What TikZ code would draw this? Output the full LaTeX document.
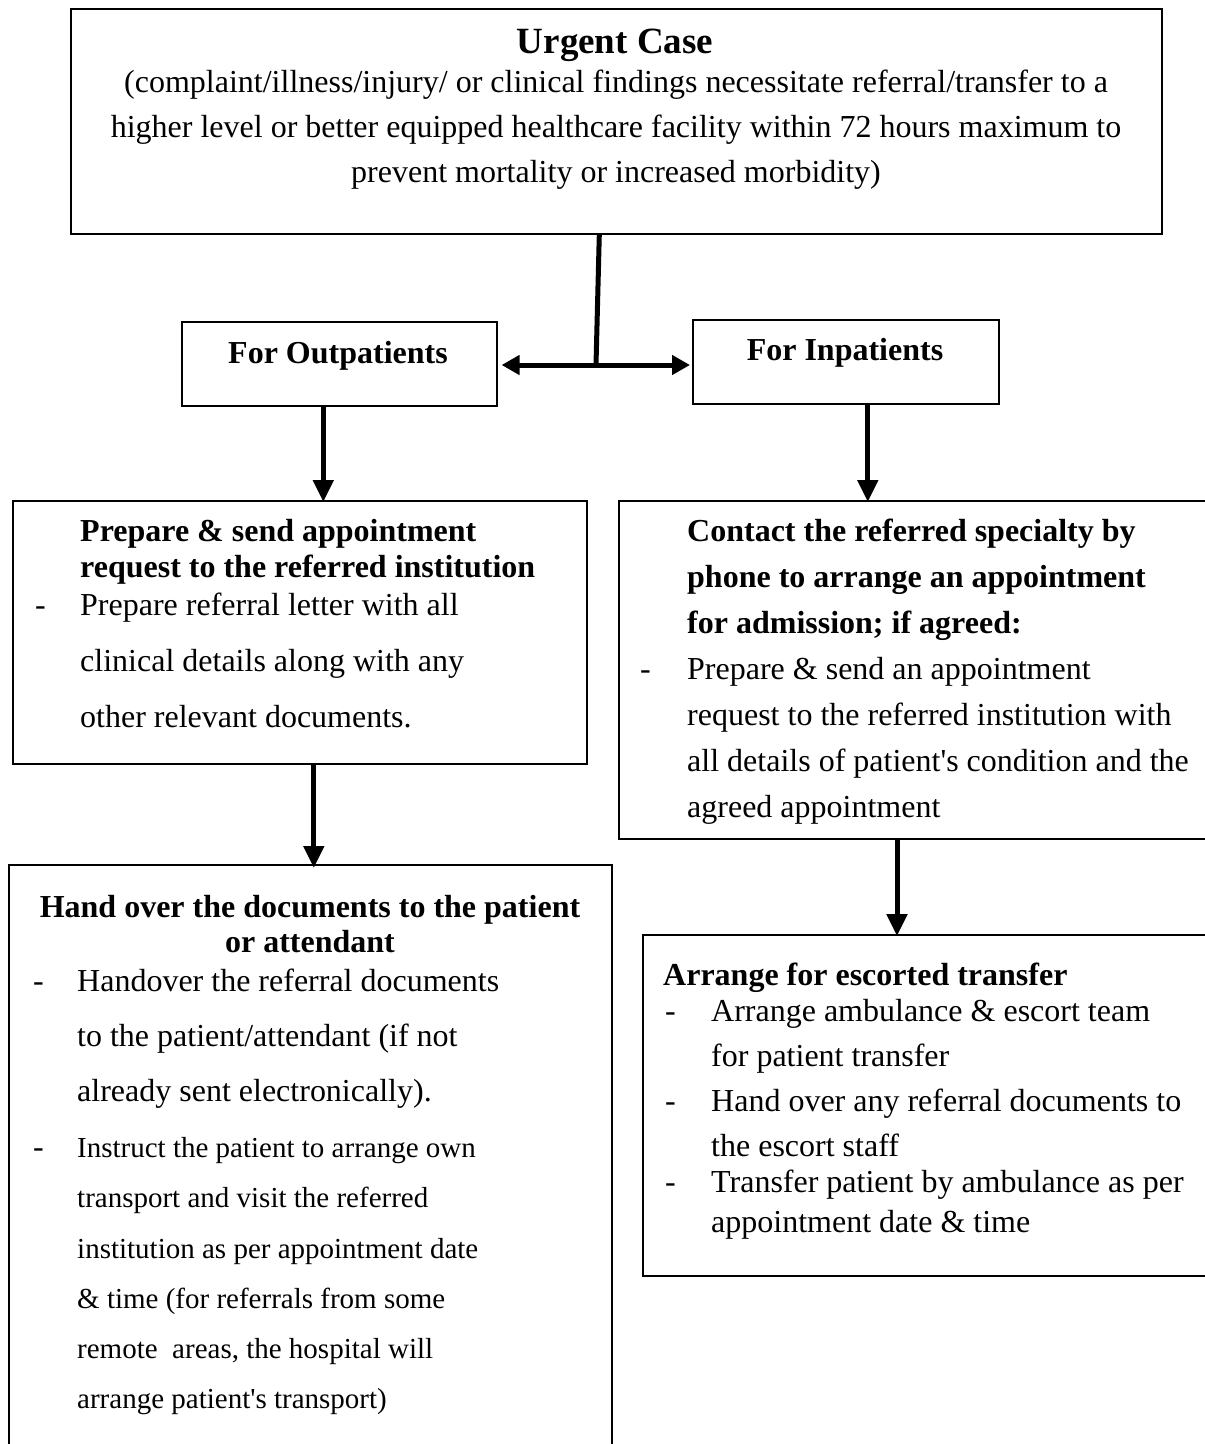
\documentclass[tikz,border=0pt]{standalone}
\usepackage{fontspec}
\setmainfont{Liberation Serif}[Ligatures=TeXOff]
\usetikzlibrary{arrows.meta,calc}

\tikzset{
  box/.style={draw=black, line width=1.6pt, inner sep=0pt, anchor=north west},
  flow/.style={line width=5pt, -{Triangle[length=22pt,width=20pt]}},
  both/.style={line width=5pt, {Triangle[length=18pt,width=19pt]}-{Triangle[length=18pt,width=19pt]}},
  plain/.style={line width=5pt},
  txt/.style={inner sep=0pt, anchor=mid west, font=\fontsize{#1}{#1}\selectfont},
  txt/.default=32,
  btxt/.style={inner sep=0pt, anchor=mid west, font=\fontsize{#1}{#1}\selectfont\bfseries},
  btxt/.default=32,
  ctxt/.style={inner sep=0pt, anchor=mid, font=\fontsize{#1}{#1}\selectfont},
  ctxt/.default=32,
  cbtxt/.style={inner sep=0pt, anchor=mid, font=\fontsize{#1}{#1}\selectfont\bfseries},
  cbtxt/.default=32,
}

\begin{document}
\begin{tikzpicture}[x=1pt, y=-1pt]
\useasboundingbox (0,0) rectangle (1205,1444);
\fill[white] (0,0) rectangle (1205,1444);
\clip (0,0) rectangle (1205,1444);

% frames
\node[box, minimum width=1091pt, minimum height=225pt] (top)  at (70,8) {};
\node[box, minimum width=315pt,  minimum height=84pt]  (out)  at (181,321) {};
\node[box, minimum width=306pt,  minimum height=84pt]  (inp)  at (692,319) {};
\node[box, minimum width=574pt,  minimum height=263pt] (prep) at (12,500) {};
\node[box, minimum width=640pt,  minimum height=338pt] (cont) at (618,500) {};
\node[box, minimum width=603pt,  minimum height=620pt] (hand) at (8,864) {};
\node[box, minimum width=620pt,  minimum height=341pt] (esc)  at (642,934) {};

% top box
\node[cbtxt=37] (t0) at (615,51) {Urgent Case};
\node[ctxt] (t1) at (616,90) {(complaint/illness/injury/ or clinical findings necessitate referral/transfer to a};
\node[ctxt] (t2) at (616,135) {higher level or better equipped healthcare facility within 72 hours maximum to};
\node[ctxt] (t3) at (616,180) {prevent mortality or increased morbidity)};

% branch boxes
\node[cbtxt] (o1) at (338,361) {For Outpatients};
\node[cbtxt] (i1) at (845,358) {For Inpatients};

% outpatient appointment request
\node[btxt] (p1) at (80,539) {Prepare \& send appointment};
\node[btxt] (p2) at (80,575) {request to the referred institution};
\node[txt] (pd) at (35,613) {-};
\node[txt] (p3) at (80,613) {Prepare referral letter with all};
\node[txt] (p4) at (80,669) {clinical details along with any};
\node[txt] (p5) at (80,725) {other relevant documents.};

% inpatient contact
\node[btxt] (c1) at (687,539) {Contact the referred specialty by};
\node[btxt] (c2) at (687,585) {phone to arrange an appointment};
\node[btxt] (c3) at (687,631) {for admission; if agreed:};
\node[txt] (cd) at (640,677) {-};
\node[txt] (c4) at (687,677) {Prepare \& send an appointment};
\node[txt] (c5) at (687,723) {request to the referred institution with};
\node[txt] (c6) at (687,769) {all details of patient's condition and the};
\node[txt] (c7) at (687,815) {agreed appointment};

% hand over documents
\node[cbtxt] (h0) at (310,915) {Hand over the documents to the patient};
\node[cbtxt] (h1) at (310,950) {or attendant};
\node[txt] (hd1) at (33,989) {-};
\node[txt] (h2) at (77,989) {Handover the referral documents};
\node[txt] (h3) at (77,1044) {to the patient/attendant (if not};
\node[txt] (h4) at (77,1099) {already sent electronically).};
\node[txt] (hd2) at (33,1155) {-};
\node[txt=29] (h5) at (77,1155) {Instruct the patient to arrange own};
\node[txt=29] (h6) at (77,1205) {transport and visit the referred};
\node[txt=29] (h7) at (77,1256) {institution as per appointment date};
\node[txt=29] (h8) at (77,1306) {\& time (for referrals from some};
\node[txt=29] (h9) at (77,1356) {remote\ \ areas, the hospital will};
\node[txt=29] (h10) at (77,1406) {arrange patient's transport)};

% escorted transfer
\node[btxt] (e0) at (663,983) {Arrange for escorted transfer};
\node[txt] (ed1) at (665,1019) {-};
\node[txt] (e1) at (711,1019) {Arrange ambulance \& escort team};
\node[txt] (e2) at (711,1064) {for patient transfer};
\node[txt] (ed2) at (665,1109) {-};
\node[txt] (e3) at (711,1109) {Hand over any referral documents to};
\node[txt] (e4) at (711,1154) {the escort staff};
\node[txt] (ed3) at (665,1190) {-};
\node[txt] (e5) at (711,1190) {Transfer patient by ambulance as per};
\node[txt] (e6) at (711,1230) {appointment date \& time};

% connectors
\coordinate (j) at (596,365);
\coordinate (s0) at ($(top.south)+(-17,0)$);
\draw[plain] (s0) -- (j);
\draw[both] ([xshift=4pt]out.east |- j) -- ([xshift=-2pt]inp.west |- j);

\coordinate (a1) at ($(out.south)+(-16,0)$);
\draw[flow] (a1) -- ([yshift=-2pt]a1 |- prep.north);
\coordinate (a2) at ($(prep.south)+(14,0)$);
\draw[flow] (a2) -- ([yshift=-4pt]a2 |- hand.north);
\coordinate (a3) at ($(inp.south)+(22,0)$);
\draw[flow] (a3) -- ([yshift=-2pt]a3 |- cont.north);
\coordinate (a4) at (897,838);
\draw[flow] (a4) -- ([yshift=-2pt]a4 |- esc.north);
\end{tikzpicture}
\end{document}
